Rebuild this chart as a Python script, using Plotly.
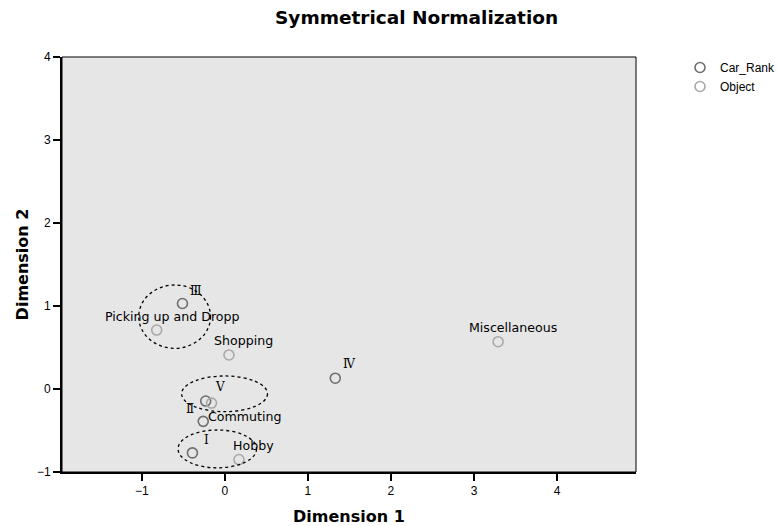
import plotly.graph_objects as go

# ---- data ----
car_rank_labels = ["Ⅰ", "Ⅱ", "Ⅲ", "Ⅳ", "Ⅴ"]
car_rank_x = [-0.39, -0.26, -0.51, 1.33, -0.23]
car_rank_y = [-0.77, -0.39, 1.03, 0.13, -0.145]

object_labels = ["Commuting", "Shopping", "Picking up and Dropp", "Hobby", "Miscellaneous"]
object_x = [-0.16, 0.05, -0.82, 0.17, 3.29]
object_y = [-0.17, 0.41, 0.71, -0.85, 0.57]

x_ticks = [-1, 0, 1, 2, 3, 4]
y_ticks = [-1, 0, 1, 2, 3, 4]
x_tick_text = ["\u22121", "0", "1", "2", "3", "4"]
y_tick_text = ["\u22121", "0", "1", "2", "3", "4"]

# label offsets (pixels) per point
car_rank_shift = [(14, 13), (-13, 12), (14, 13), (14, 14), (14, 14)]
object_shift = [(33, -13), (15, 14), (15, 14), (15, 14), (15, 14)]

# grouping ellipses (data coords)
ellipses = [
    (-1.036, 0.49, -0.172, 1.253),
    (-0.52, -0.273, 0.514, 0.157),
    (-0.563, -0.95, 0.382, -0.494),
]

CAR_COLOR = "#6e6e6e"
OBJ_COLOR = "#a9a9a9"
FONT = "Liberation Sans"
WIDE = "DejaVu Sans"

L, R, T, B = 62, 142, 57, 54
PW, PH = 778 - L - R, 526 - T - B

fig = go.Figure()
fig.add_trace(go.Scatter(
    x=car_rank_x, y=car_rank_y, mode="markers", name="Car_Rank",
    marker=dict(symbol="circle-open", size=10, color=CAR_COLOR, line=dict(width=1.6, color=CAR_COLOR)),
))
fig.add_trace(go.Scatter(
    x=object_x, y=object_y, mode="markers", name="Object",
    marker=dict(symbol="circle-open", size=10, color=OBJ_COLOR, line=dict(width=1.6, color=OBJ_COLOR)),
))

annotations = []
for lbl, x, y, (dx, dy) in zip(car_rank_labels, car_rank_x, car_rank_y, car_rank_shift):
    annotations.append(dict(x=x, y=y, xref="x", yref="y", text=lbl, showarrow=False,
                            xshift=dx, yshift=dy, font=dict(family="DejaVu Serif", size=12, color="black")))
for lbl, x, y, (dx, dy) in zip(object_labels, object_x, object_y, object_shift):
    annotations.append(dict(x=x, y=y, xref="x", yref="y", text=lbl, showarrow=False,
                            xshift=dx, yshift=dy, font=dict(family=WIDE, size=12.6, color="black")))

annotations.append(dict(x=(416 - L) / PW, y=1 + (T - 18) / PH, xref="paper", yref="paper",
                        xanchor="center", yanchor="middle",
                        text="<b>Symmetrical Normalization</b>",
                        showarrow=False, font=dict(family=WIDE, size=18.5, color="black")))
annotations.append(dict(x=0.5, y=-(516 - (T + PH)) / PH, xref="paper", yref="paper",
                        xanchor="center", yanchor="middle",
                        text="<b>Dimension 1</b>",
                        showarrow=False, font=dict(family=WIDE, size=16, color="black")))

shapes = []
for x0, y0, x1, y1 in ellipses:
    shapes.append(dict(type="circle", xref="x", yref="y", x0=x0, y0=y0, x1=x1, y1=y1,
                       line=dict(color="black", width=1.3, dash="dot")))
shapes.append(dict(type="rect", xref="paper", yref="paper", x0=0, y0=0, x1=1, y1=1,
                   line=dict(color="black", width=1), layer="above"))

fig.update_layout(
    width=778, height=526,
    margin=dict(l=L, r=R, t=T, b=B, autoexpand=False),
    paper_bgcolor="white", plot_bgcolor="#e6e6e6",
    showlegend=True,
    legend=dict(x=(680 - L) / PW, y=1 + 4 / PH, xanchor="left", yanchor="top",
                font=dict(family=FONT, size=12, color="black"),
                tracegroupgap=0, itemwidth=30, bgcolor="rgba(0,0,0,0)"),
    shapes=shapes,
    annotations=annotations,
    font=dict(family=FONT, size=12, color="black"),
)

fig.update_xaxes(
    range=[-1.96, 4.95], tickvals=x_ticks, ticktext=x_tick_text, automargin=False,
    showgrid=False, zeroline=False, showline=True, linecolor="black", linewidth=2,
    ticks="outside", ticklen=7, tickwidth=2, tickcolor="black",
    tickfont=dict(family=FONT, size=12),
)
fig.update_yaxes(
    range=[-1, 4], tickvals=y_ticks, ticktext=y_tick_text, automargin=False,
    showgrid=False, zeroline=False, showline=True, linecolor="black", linewidth=2,
    ticks="outside", ticklen=7, tickwidth=2, tickcolor="black",
    tickfont=dict(family=FONT, size=12),
    title=dict(text="<b>Dimension 2</b>", font=dict(family=WIDE, size=16), standoff=4),
)

fig.write_html("out.html", config={"displayModeBar": False},
               post_script="document.body.style.margin='0px';")
